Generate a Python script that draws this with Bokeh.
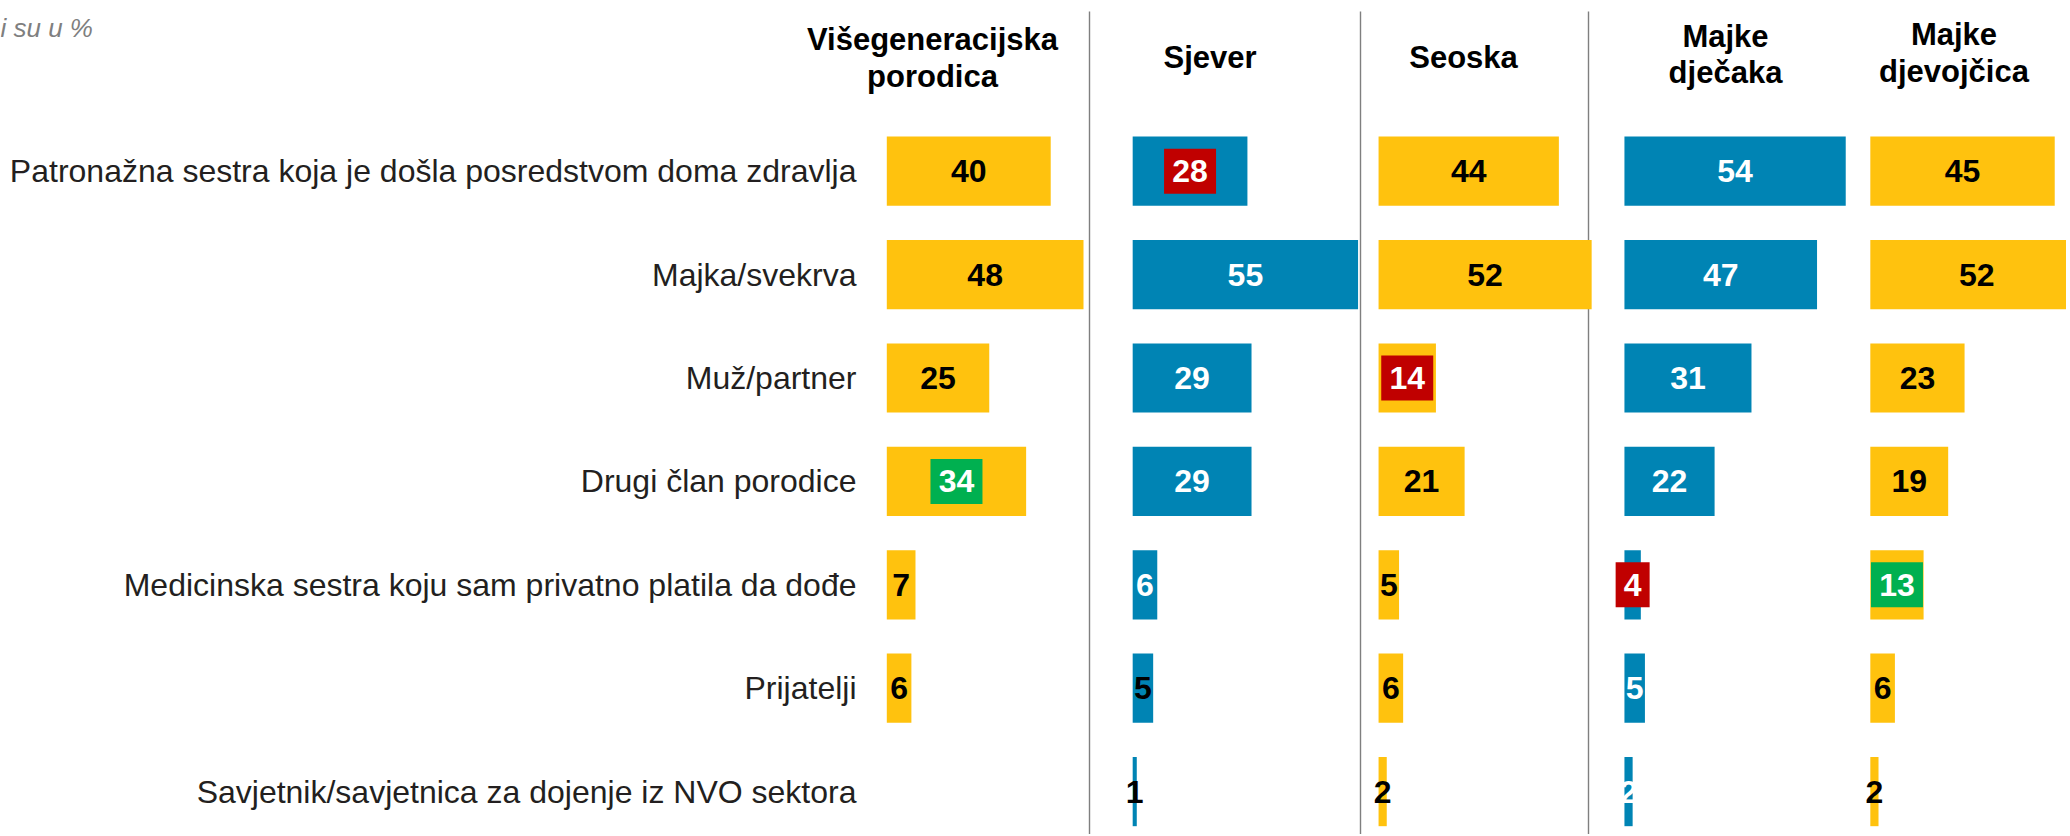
from bokeh.plotting import figure
from bokeh.models import ColumnDataSource, Range1d
from bokeh.embed import file_html
from bokeh.resources import INLINE
from bokeh.core.properties import value

# ---------------- data ----------------
categories = [
    "Patronažna sestra koja je došla posredstvom doma zdravlja",
    "Majka/svekrva",
    "Muž/partner",
    "Drugi član porodice",
    "Medicinska sestra koju sam privatno platila da dođe",
    "Prijatelji",
    "Savjetnik/savjetnica za dojenje iz NVO sektora",
]
panel_titles = ["Višegeneracijska\nporodica", "Sjever", "Seoska", "Majke\ndječaka", "Majke\ndjevojčica"]
visegeneracijska = [40, 48, 25, 34, 7, 6, None]
sjever = [28, 55, 29, 29, 6, 5, 1]
seoska = [44, 52, 14, 21, 5, 6, 2]
majke_djecaka = [54, 47, 31, 22, 4, 5, 2]
majke_djevojcica = [45, 52, 23, 19, 13, 6, 2]
series = [visegeneracijska, sjever, seoska, majke_djecaka, majke_djevojcica]
note = "i su u %"

# ---------------- styles ----------------
YELLOW = "#FFC20E"
BLUE = "#0084B4"
RED = "#C00000"
GREEN = "#00B050"
panel_colors = [YELLOW, BLUE, YELLOW, BLUE, YELLOW]
label_colors = ["black", "white", "black", "white", "black"]
label_color_exceptions = {(1, 5): "black", (1, 6): "black"}
highlights = {(0, 3): GREEN, (1, 0): RED, (2, 2): RED, (3, 4): RED, (4, 4): GREEN}

FONT = value("Liberation Sans")

# ---------------- layout ----------------
W, H = 2066, 834
FRAME0 = 886.3        # px where the first panel's bars start
UNIT = 4.098          # px per percentage point
PANEL_STEP = 60       # percentage-point units between panel origins
ROW_PX = 103.4
ROW0 = 170.7          # px of first row centre
BAR_H = 0.669


def xd(px):
    return (px - FRAME0) / UNIT


def yd(py):
    return (py - ROW0) / ROW_PX


p = figure(width=W, height=H, output_backend="svg", toolbar_location=None,
           x_range=Range1d(xd(0), xd(W)),
           y_range=Range1d(yd(H), yd(0)),
           x_axis_location=None, y_axis_location=None,
           min_border=0, min_border_left=0, min_border_right=0,
           min_border_top=0, min_border_bottom=0)
p.outline_line_color = None
p.xgrid.visible = False
p.ygrid.visible = False
p.background_fill_color = "white"
p.border_fill_color = "white"

# separators
sep_px = [1089, 1360, 1588]
p.segment(x0=[xd(s) for s in sep_px], y0=yd(11), x1=[xd(s) for s in sep_px], y1=yd(850),
          line_color="#7f7f7f", line_width=1.4)

# bars + labels
for k, vals in enumerate(series):
    off = k * PANEL_STEP
    rows, lefts, rights, mids, texts, tcols = [], [], [], [], [], []
    hx, hy, hw, hc = [], [], [], []
    for i, v in enumerate(vals):
        if v is None:
            continue
        rows.append(i)
        lefts.append(off)
        rights.append(off + v)
        mids.append(off + v / 2)
        texts.append(str(v))
        col = label_color_exceptions.get((k, i), label_colors[k])
        if (k, i) in highlights:
            col = "white"
            hx.append(off + v / 2)
            hy.append(i)
            hw.append(34 if v < 10 else 52)
            hc.append(highlights[(k, i)])
        tcols.append(col)
    src = ColumnDataSource(dict(y=rows, left=lefts, right=rights, x=mids, text=texts, tc=tcols))
    p.hbar(y="y", left="left", right="right", height=BAR_H, source=src,
           fill_color=panel_colors[k], line_color=None)
    if hx:
        hsrc = ColumnDataSource(dict(x=hx, y=hy, w=hw, c=hc))
        p.rect(x="x", y="y", width="w", height=45, width_units="screen", height_units="screen",
               fill_color="c", line_color=None, source=hsrc)
    p.text(x="x", y="y", text="text", source=src, text_color="tc",
           text_font=FONT, text_font_size="32px", text_font_style="bold",
           text_align="center", text_baseline="middle")

# category labels
p.text(x=[xd(856)] * len(categories), y=list(range(len(categories))), text=categories,
       text_font=FONT, text_font_size="32px", text_color="#231f20",
       text_align="right", text_baseline="middle")

# panel headers (vertical centres of each text line)
header_cx = [932, 1209.5, 1463, 1725, 1953.5]
header_cy = [(39.3, 76.3), (57.3,), (57.3,), (35.7, 72.3), (34.0, 70.7)]
hx, hy, ht = [], [], []
for k, title in enumerate(panel_titles):
    for line, cy in zip(title.split("\n"), header_cy[k]):
        hx.append(xd(header_cx[k]))
        hy.append(yd(cy))
        ht.append(line)
p.text(x=hx, y=hy, text=ht, text_font=FONT, text_font_size="31px", text_font_style="bold",
       text_color="black", text_align="center", text_baseline="middle")

# note
p.text(x=[xd(0)], y=[yd(27.5)], text=[note], text_font=FONT, text_font_size="26px",
       text_font_style="italic", text_color="#7f7f7f", text_align="left", text_baseline="middle")

open("out.html", "w").write(file_html(p, INLINE))
